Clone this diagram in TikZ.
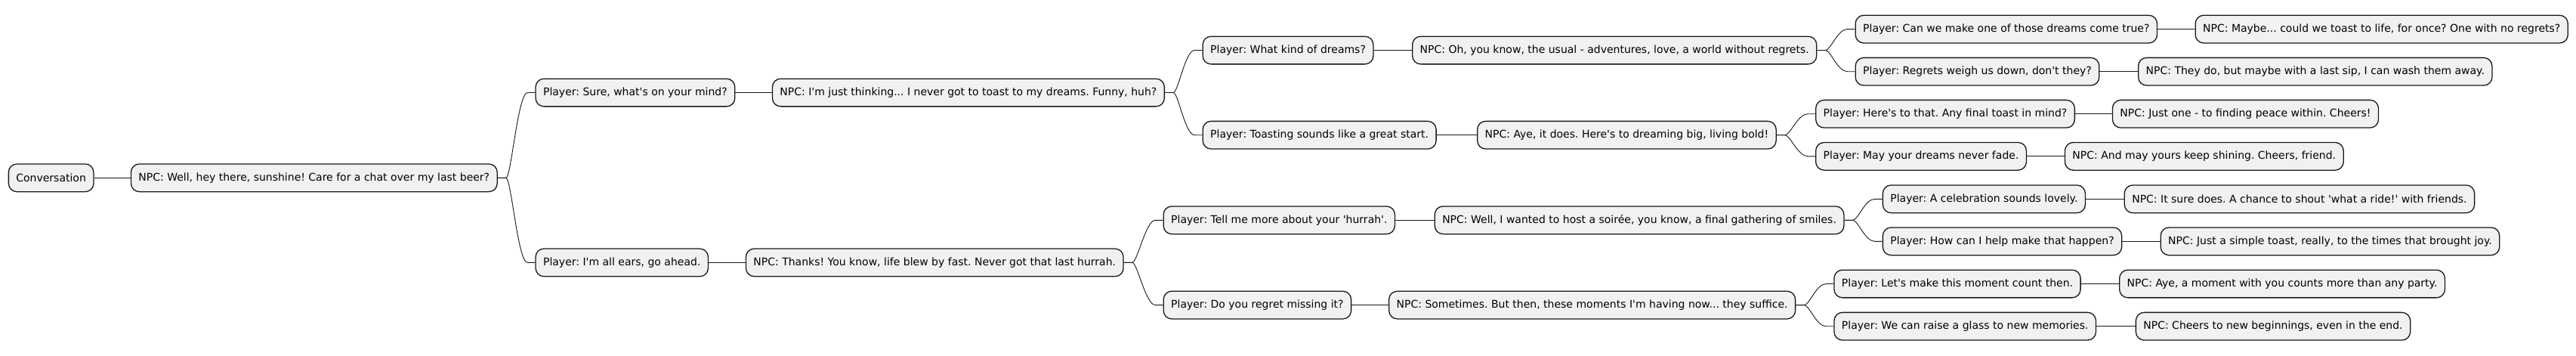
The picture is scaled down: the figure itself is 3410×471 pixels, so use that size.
\documentclass[tikz,border=0pt]{standalone}
\usepackage{fontspec}
\setmainfont{DejaVu Sans}[Ligatures=TeXOff]
\frenchspacing
\definecolor{boxfill}{HTML}{F1F1F1}
\definecolor{boxline}{HTML}{181818}
\tikzset{
  x=1pt, y=-1pt,
  topic/.style={draw=boxline, fill=boxfill, line width=1.3pt, rounded corners=11pt,
    anchor=west, inner xsep=10pt, inner ysep=0pt, minimum height=36.7pt,
    font=\fontsize{14}{16.8}\selectfont},
  link/.style={draw=boxline, line width=0.9pt},
  branch/.style={to path={-- ++(11pt,0) .. controls +(7pt,0) and +(-13pt,0) .. ([xshift=-10pt]\tikztotarget.west) -- (\tikztotarget.west)}}
}
\begin{document}
\begin{tikzpicture}
\useasboundingbox (0,0) rectangle (3410,471);
\node[topic] (c) at (10.7,235.3) {Conversation};
\node[topic] (n0) at (172.8,235.3) {NPC: Well, hey there, sunshine! Care for a chat over my last beer?};
\node[topic] (p1) at (708.4,122.5) {Player: Sure, what's on your mind?};
\node[topic] (n1) at (1021.8,122.5) {NPC: I'm just thinking... I never got to toast to my dreams. Funny, huh?};
\node[topic] (p11) at (1591.5,66.5) {Player: What kind of dreams?};
\node[topic] (n11) at (1869,66.5) {NPC: Oh, you know, the usual - adventures, love, a world without regrets.};
\node[topic] (p111) at (2455.5,38.6) {Player: Can we make one of those dreams come true?};
\node[topic] (n111) at (2905.5,38.6) {NPC: Maybe... could we toast to life, for once? One with no regrets?};
\node[topic] (p112) at (2455.5,94.7) {Player: Regrets weigh us down, don't they?};
\node[topic] (n112) at (2830,94.7) {NPC: They do, but maybe with a last sip, I can wash them away.};
\node[topic] (p12) at (1591.5,178.7) {Player: Toasting sounds like a great start.};
\node[topic] (n12) at (1955,178.7) {NPC: Aye, it does. Here's to dreaming big, living bold!};
\node[topic] (p121) at (2403,150.7) {Player: Here's to that. Any final toast in mind?};
\node[topic] (n121) at (2795.8,150.7) {NPC: Just one - to finding peace within. Cheers!};
\node[topic] (p122) at (2403,206.8) {Player: May your dreams never fade.};
\node[topic] (n122) at (2732.8,206.8) {NPC: And may yours keep shining. Cheers, friend.};
\node[topic] (p2) at (708.4,347.4) {Player: I'm all ears, go ahead.};
\node[topic] (n2) at (986.8,347.4) {NPC: Thanks! You know, life blew by fast. Never got that last hurrah.};
\node[topic] (p21) at (1539.5,291.3) {Player: Tell me more about your 'hurrah'.};
\node[topic] (n21) at (1898.6,291.3) {NPC: Well, I wanted to host a soirée, you know, a final gathering of smiles.};
\node[topic] (p211) at (2491.7,263.3) {Player: A celebration sounds lovely.};
\node[topic] (n211) at (2811.6,263.3) {NPC: It sure does. A chance to shout 'what a ride!' with friends.};
\node[topic] (p212) at (2491.7,319.3) {Player: How can I help make that happen?};
\node[topic] (n212) at (2859.5,319.3) {NPC: Just a simple toast, really, to the times that brought joy.};
\node[topic] (p22) at (1539.5,403.6) {Player: Do you regret missing it?};
\node[topic] (n22) at (1838,403.6) {NPC: Sometimes. But then, these moments I'm having now... they suffice.};
\node[topic] (p221) at (2427.3,375.5) {Player: Let's make this moment count then.};
\node[topic] (n221) at (2805,375.5) {NPC: Aye, a moment with you counts more than any party.};
\node[topic] (p222) at (2427.3,431.7) {Player: We can raise a glass to new memories.};
\node[topic] (n222) at (2826.7,431.7) {NPC: Cheers to new beginnings, even in the end.};
% straight links
\draw[link] (c.east) -- (n0.west);
\draw[link] (p1.east) -- (n1.west);
\draw[link] (p11.east) -- (n11.west);
\draw[link] (p111.east) -- (n111.west);
\draw[link] (p112.east) -- (n112.west);
\draw[link] (p12.east) -- (n12.west);
\draw[link] (p121.east) -- (n121.west);
\draw[link] (p122.east) -- (n122.west);
\draw[link] (p2.east) -- (n2.west);
\draw[link] (p21.east) -- (n21.west);
\draw[link] (p211.east) -- (n211.west);
\draw[link] (p212.east) -- (n212.west);
\draw[link] (p22.east) -- (n22.west);
\draw[link] (p221.east) -- (n221.west);
\draw[link] (p222.east) -- (n222.west);
% branching links
\draw[link] (n0.east) to[branch] (p1);
\draw[link] (n0.east) to[branch] (p2);
\draw[link] (n1.east) to[branch] (p11);
\draw[link] (n1.east) to[branch] (p12);
\draw[link] (n11.east) to[branch] (p111);
\draw[link] (n11.east) to[branch] (p112);
\draw[link] (n12.east) to[branch] (p121);
\draw[link] (n12.east) to[branch] (p122);
\draw[link] (n2.east) to[branch] (p21);
\draw[link] (n2.east) to[branch] (p22);
\draw[link] (n21.east) to[branch] (p211);
\draw[link] (n21.east) to[branch] (p212);
\draw[link] (n22.east) to[branch] (p221);
\draw[link] (n22.east) to[branch] (p222);
\end{tikzpicture}
\end{document}
